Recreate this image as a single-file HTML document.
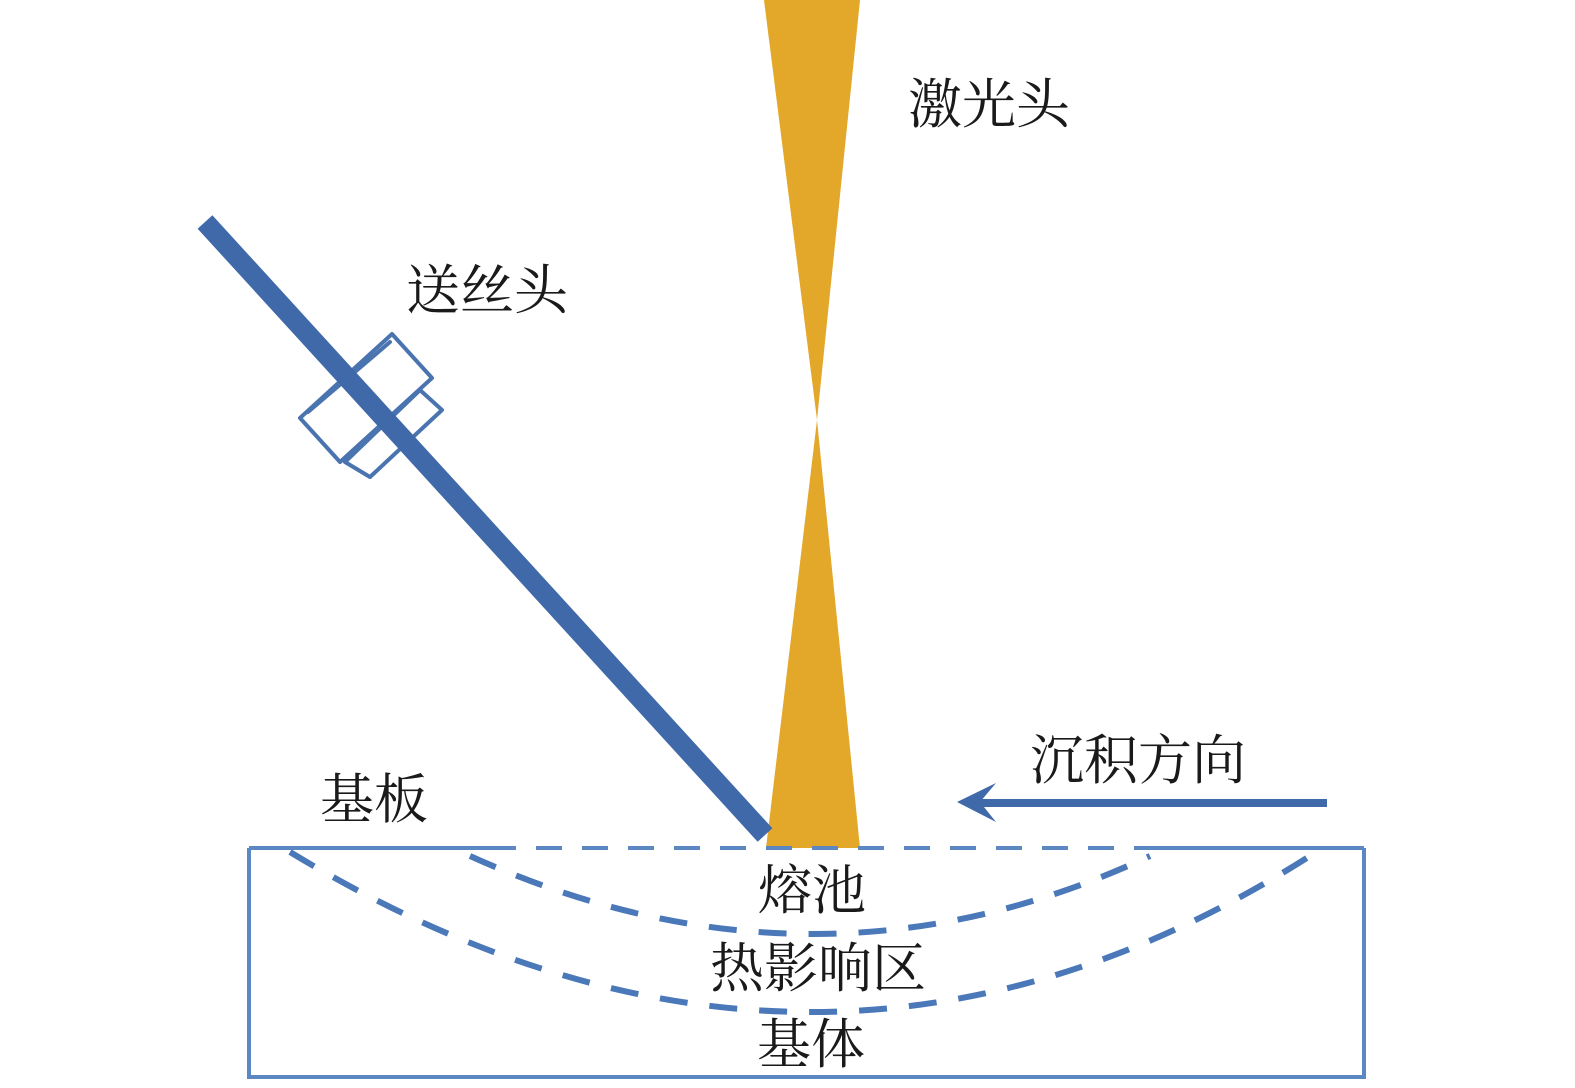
<!DOCTYPE html>
<html><head><meta charset="utf-8"><style>
body{margin:0;background:#fff;width:1575px;height:1088px;overflow:hidden}
svg{display:block}
text{font-family:"Liberation Serif","Noto Serif CJK SC",serif;font-size:54px;fill:#1a1a1a}
</style></head><body>
<svg width="1575" height="1088" viewBox="0 0 1575 1088">
<polygon points="764,0 860,0 817,420" fill="#e3a72a"/>
<polygon points="817,420 766,848 860,848" fill="#e3a72a"/>
<g fill="none" stroke="#5b88c2" stroke-width="4">
<line x1="249" y1="848" x2="490" y2="848"/>
<line x1="490" y1="848" x2="1150" y2="848" stroke-dasharray="26 20"/>
<line x1="1150" y1="848" x2="1364" y2="848"/>
<polyline points="249,848 249,1077 1364,1077 1364,848"/>
</g>
<g fill="none" stroke="#4a78b8" stroke-width="6" stroke-dasharray="28 22">
<path d="M470,856 Q815,1012 1150,856"/>
<path d="M290,852 Q815,1170 1310,856"/>
</g>
<g fill="none" stroke="#4a74b0" stroke-width="4" stroke-linejoin="round">
<polygon points="300,418 392,334 432,378 340,462"/>
<polygon points="308,412 390,342"/>
<polygon points="345,462 370,477 442,410 420,390"/>
</g>
<line x1="205" y1="222" x2="765" y2="835" stroke="#3f69a8" stroke-width="20"/>
<line x1="975" y1="803" x2="1327" y2="803" stroke="#3f69a8" stroke-width="8"/>
<polygon points="957,802 996,783 980,802 996,822" fill="#3f69a8"/>
<text x="908" y="123">激光头</text>
<text x="406" y="309">送丝头</text>
<text x="1030" y="779">沉积方向</text>
<text x="320" y="818">基板</text>
<text x="758" y="909">熔池</text>
<text x="710" y="987">热影响区</text>
<text x="757" y="1063">基体</text>
</svg>
</body></html>
